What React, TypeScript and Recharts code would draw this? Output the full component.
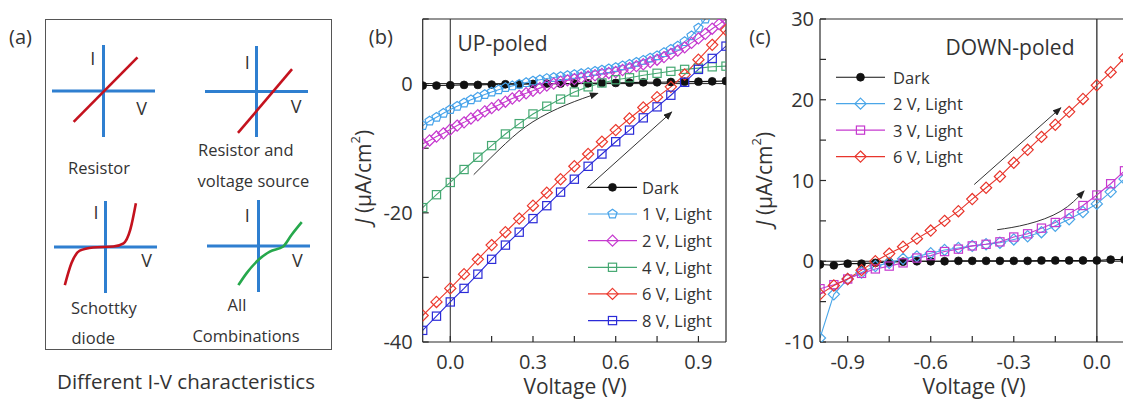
import React from "react";
import { LineChart, Line, XAxis, YAxis, ReferenceLine, Legend } from "recharts";

const FONT = "'Open Sans', sans-serif";
const INK = "#333";
const FRAME = "#2a2a2a";
const SKETCH_AXIS = "#2f7fd0";

// ---- panel (b): UP-poled, bias sweep -0.1 .. 1.0 V
const VB = [-0.1, -0.05, 0, 0.05, 0.1, 0.15, 0.2, 0.25, 0.3, 0.35, 0.4, 0.45, 0.5, 0.55, 0.6, 0.65, 0.7, 0.75, 0.8, 0.85, 0.9, 0.95, 1.0];
const VB_FINE = [-0.1, -0.075, -0.05, -0.025, 0, 0.025, 0.05, 0.075, 0.1, 0.125, 0.15, 0.175, 0.2, 0.225, 0.25, 0.275, 0.3, 0.325, 0.35, 0.375, 0.4, 0.425, 0.45, 0.475, 0.5, 0.525, 0.55, 0.575, 0.6, 0.625, 0.65, 0.675, 0.7, 0.725, 0.75, 0.775, 0.8, 0.825, 0.85, 0.875, 0.9, 0.925, 0.95, 0.975, 1.0];
const B_DARK = [-0.3, -0.3, -0.25, -0.2, -0.2, -0.15, -0.1, -0.1, -0.05, 0, 0, 0, 0.05, 0.1, 0.1, 0.15, 0.2, 0.2, 0.25, 0.3, 0.3, 0.35, 0.4];
const B_1V = [-6.5, -5.8, -5.2, -4.6, -4.0, -3.5, -3.0, -2.5, -2.1, -1.7, -1.3, -0.95, -0.6, -0.35, -0.1, 0.15, 0.4, 0.6, 0.8, 0.95, 1.1, 1.25, 1.4, 1.55, 1.7, 1.9, 2.1, 2.3, 2.5, 2.75, 3.0, 3.3, 3.6, 3.95, 4.3, 4.8, 5.3, 5.8, 6.5, 7.4, 8.6, 10.0, 11.4, 12.8, 14.2];
const B_2V = [-9.3, -8.8, -8.2, -7.7, -7.1, -6.5, -6.0, -5.4, -4.9, -4.3, -3.8, -3.3, -2.8, -2.3, -1.9, -1.5, -1.1, -0.7, -0.3, 0.0, 0.3, 0.5, 0.7, 0.9, 1.1, 1.3, 1.5, 1.65, 1.8, 2.1, 2.4, 2.7, 3.0, 3.35, 3.7, 4.1, 4.6, 5.1, 5.6, 6.3, 7.0, 7.7, 8.5, 9.2, 10.0];
const B_4V = [-19.2, -17.2, -15.3, -13.3, -11.4, -9.6, -7.8, -6.2, -4.7, -3.5, -2.4, -1.3, -0.5, 0.1, 0.6, 0.9, 1.3, 1.6, 1.9, 2.2, 2.4, 2.6, 2.7];
const B_6V = [-35.9, -33.8, -31.7, -29.5, -27.2, -25.0, -23.0, -20.9, -18.9, -16.9, -14.8, -12.8, -10.9, -9.0, -7.2, -5.4, -3.7, -2.1, -0.5, 1.4, 3.7, 6.0, 8.3];
const B_8V = [-38.2, -36.0, -33.8, -31.7, -29.5, -27.2, -25.0, -23.0, -20.9, -18.9, -16.8, -14.8, -12.8, -10.9, -9.0, -7.2, -5.3, -3.6, -1.8, 0.2, 2.2, 3.9, 5.8];
const B_XTICKS = [0, 0.15, 0.3, 0.45, 0.6, 0.75, 0.9];
const B_YTICKS = [-40, -30, -20, -10, 0, 10];

// ---- panel (c): DOWN-poled, bias sweep -1.0 .. 0.1 V
const VC = [-1.0, -0.95, -0.9, -0.85, -0.8, -0.75, -0.7, -0.65, -0.6, -0.55, -0.5, -0.45, -0.4, -0.35, -0.3, -0.25, -0.2, -0.15, -0.1, -0.05, 0, 0.05, 0.1];
const C_DARK = [-0.4, -0.5, -0.3, -0.3, -0.2, -0.1, -0.05, 0, 0, 0, 0.05, 0.05, 0.05, 0.05, 0.05, 0.05, 0.1, 0.1, 0.1, 0.1, 0.1, 0.2, 0.2];
const C_2V = [-9.5, -4.1, -2.2, -1.4, -0.6, -0.2, 0.3, 0.6, 1.0, 1.4, 1.65, 1.9, 2.1, 2.3, 2.7, 3.1, 3.6, 4.4, 5.2, 6.1, 7.1, 8.6, 10.2];
const C_3V = [-3.4, -2.9, -2.2, -1.5, -0.95, -0.6, -0.2, 0.4, 0.7, 1.2, 1.5, 1.9, 2.1, 2.4, 3.0, 3.4, 4.1, 4.8, 5.9, 6.9, 8.2, 9.6, 11.2];
const C_6V = [-4.1, -3.0, -2.2, -1.1, 0, 0.95, 1.8, 2.8, 3.8, 5.0, 6.2, 7.7, 9.1, 10.5, 12.2, 13.8, 15.4, 16.9, 18.5, 20.1, 21.8, 23.4, 25.2];
const C_XTICKS = [-0.9, -0.75, -0.6, -0.45, -0.3, -0.15, 0];
const C_YTICKS = [-10, -5, 0, 5, 10, 15, 20, 25, 30];

// sweep-direction arrows, in data units
const B_ARC_V = [0.085, 0.2, 0.3, 0.42, 0.535];
const B_ARC_J = [-14.1, -9.3, -5.9, -3.3, -1.5];
const B_RAY_V = [0.495, 0.803];
const B_RAY_J = [-16.2, -4.4];
const C_RAY_V = [-0.443, -0.13];
const C_RAY_J = [9.5, 19.0];
const C_ARC_V = [-0.36, -0.25, -0.13, -0.046];
const C_ARC_J = [3.9, 4.6, 6.2, 8.7];

// ---- panel (a): sketch curves, normalised units
const RES_V = [-0.58, 0.66];
const RES_I = [-0.67, 0.73];
const SRC_V = [-0.36, 0.69];
const SRC_I = [-0.91, 0.49];
const DIODE_V = [-0.79, -0.66, -0.5, -0.24, 0.15, 0.35, 0.48, 0.59];
const DIODE_I = [-0.83, -0.35, -0.08, -0.01, 0.01, 0.08, 0.37, 0.95];
const ALL_V = [-0.39, -0.23, 0, 0.22, 0.48, 0.64, 0.84];
const ALL_I = [-0.85, -0.59, -0.3, -0.12, -0.01, 0.24, 0.52];

const zip = (xs: number[], ys: number[]) => xs.map((x, i) => ({ x, y: ys[i] }));

type Shape = "circle" | "pentagon" | "diamond" | "square";
interface Series {
  name: string;
  xs: number[];
  ys: number[];
  color: string;
  shape: Shape;
}

const B_SERIES: Series[] = [
  { name: "Dark", xs: VB, ys: B_DARK, color: "#111", shape: "circle" },
  { name: "1 V, Light", xs: VB_FINE, ys: B_1V, color: "#47a3ea", shape: "pentagon" },
  { name: "2 V, Light", xs: VB_FINE, ys: B_2V, color: "#c63acf", shape: "diamond" },
  { name: "4 V, Light", xs: VB, ys: B_4V, color: "#45a872", shape: "square" },
  { name: "6 V, Light", xs: VB, ys: B_6V, color: "#ec3a2e", shape: "diamond" },
  { name: "8 V, Light", xs: VB, ys: B_8V, color: "#2b2bd8", shape: "square" },
];

const C_SERIES: Series[] = [
  { name: "Dark", xs: VC, ys: C_DARK, color: "#111", shape: "circle" },
  { name: "2 V, Light", xs: VC, ys: C_2V, color: "#4aa6e8", shape: "diamond" },
  { name: "3 V, Light", xs: VC, ys: C_3V, color: "#c63acf", shape: "square" },
  { name: "6 V, Light", xs: VC, ys: C_6V, color: "#e8352c", shape: "diamond" },
];

function Marker({ shape, cx, cy, color }: { shape: Shape; cx: number; cy: number; color: string }) {
  if (shape === "circle") return <circle cx={cx} cy={cy} r={3.9} fill={color} stroke={color} strokeWidth={0.8} />;
  if (shape === "diamond") {
    const r = 5.6;
    return <polygon points={`${cx},${cy - r} ${cx + r},${cy} ${cx},${cy + r} ${cx - r},${cy}`} fill="none" stroke={color} strokeWidth={1.2} />;
  }
  if (shape === "square") {
    const h = 4.1;
    return <rect x={cx - h} y={cy - h} width={2 * h} height={2 * h} fill="none" stroke={color} strokeWidth={1.2} />;
  }
  const r = 4.8;
  const pts = [0, 1, 2, 3, 4]
    .map((k) => {
      const a = -Math.PI / 2 + (k * 2 * Math.PI) / 5;
      return `${cx + r * Math.cos(a)},${cy + r * Math.sin(a)}`;
    })
    .join(" ");
  return <polygon points={pts} fill="none" stroke={color} strokeWidth={1.2} />;
}

const dotFor = (s: Series) => (p: any) => {
  if (p.cx == null || p.cy == null) return <g key={`${s.name}-${p.index}`} />;
  return (
    <g key={`${s.name}-${p.index}`}>
      <Marker shape={s.shape} cx={p.cx} cy={p.cy} color={s.color} />
    </g>
  );
};

// legend rows keep the plotting order of the series table
const legendFor = (series: Series[], rowH: number, lineW: number, textX: number) => (props: any) => {
  const order = (name: string) => series.findIndex((s) => s.name === name);
  const items = (props.payload || [])
    .filter((it: any) => it.type !== "none" && order(it.value) >= 0)
    .sort((a: any, b: any) => order(a.value) - order(b.value));
  return (
    <svg width={textX + 95} height={items.length * rowH} style={{ display: "block", overflow: "visible" }}>
      {items.map((it: any, i: number) => {
        const s = series[order(it.value)];
        const cy = rowH / 2 + i * rowH;
        return (
          <g key={s.name}>
            <line x1={0} x2={lineW} y1={cy} y2={cy} stroke={s.color} strokeWidth={1.2} />
            <Marker shape={s.shape} cx={lineW / 2} cy={cy} color={s.color} />
            <text x={textX} y={cy} dominantBaseline="central" fontSize={16.5} fontFamily={FONT} fill={INK}>
              {s.name}
            </text>
          </g>
        );
      })}
    </svg>
  );
};

const yTitle = (cx: number, cy: number) => () => (
  <text x={cx} y={cy} transform={`rotate(-90 ${cx} ${cy})`} textAnchor="middle" dominantBaseline="central" fontFamily={FONT} fontSize={21} fill={INK}>
    <tspan fontStyle="italic">J</tspan>
    <tspan> (μA/cm</tspan>
    <tspan fontSize={13} dy={-8}>2</tspan>
    <tspan dy={8}>)</tspan>
  </text>
);

const xTitle = (cx: number, y: number) => () => (
  <text x={cx} y={y} textAnchor="middle" fontFamily={FONT} fontSize={21} fill={INK}>
    Voltage (V)
  </text>
);

const fmtV = (v: number) => (Math.round(v * 100) % 30 === 0 ? v.toFixed(1) : "");
const tickStyle = { fill: INK, fontSize: 20, fontFamily: FONT };

function Txt({ x, y, size = 20, anchor = "middle", children }: { x: number; y: number; size?: number; anchor?: string; children: React.ReactNode }) {
  const tx = anchor === "middle" ? "-50%" : anchor === "end" ? "-100%" : "0";
  return (
    <div style={{ position: "absolute", left: x, top: y, transform: `translate(${tx}, -50%)`, fontSize: size, lineHeight: 1, whiteSpace: "nowrap", fontFamily: FONT, color: INK }}>
      {children}
    </div>
  );
}

function Sketch({ left, top, w, h, xs, ys, color }: { left: number; top: number; w: number; h: number; xs: number[]; ys: number[]; color: string }) {
  return (
    <div style={{ position: "absolute", left, top }}>
      <LineChart width={w} height={h} margin={{ top: 0, right: 0, bottom: 0, left: 0 }}>
        <XAxis type="number" dataKey="x" domain={[-1, 1]} hide />
        <YAxis type="number" domain={[-1, 1]} hide />
        <ReferenceLine x={0} stroke={SKETCH_AXIS} strokeWidth={3} />
        <ReferenceLine y={0} stroke={SKETCH_AXIS} strokeWidth={3} />
        <Line data={zip(xs, ys)} dataKey="y" type="monotone" stroke={color} strokeWidth={2.6} dot={false} isAnimationActive={false} />
      </LineChart>
    </div>
  );
}

const arrowDef = (id: string) => (
  <defs>
    <marker id={id} viewBox="0 0 10 8" refX={9} refY={4} markerWidth={9} markerHeight={7} markerUnits="userSpaceOnUse" orient="auto">
      <path d="M0,0 L10,4 L0,8 z" fill="#222" />
    </marker>
  </defs>
);

function PanelB() {
  return (
    <div style={{ position: "absolute", left: 340, top: 0 }}>
      <LineChart width={400} height={403} margin={{ top: 19, right: 14, bottom: 21, left: 22.7 }}>
        {arrowDef("arrowB")}
        <XAxis type="number" dataKey="x" domain={[-0.1, 1.0]} ticks={B_XTICKS} interval={0} allowDataOverflow height={40}
          tickSize={-6} tickMargin={18.5} stroke={FRAME} strokeWidth={1.2} tickFormatter={fmtV} tick={tickStyle} label={xTitle(235, 394)} />
        <XAxis xAxisId="top" orientation="top" mirror type="number" dataKey="x" domain={[-0.1, 1.0]} ticks={B_XTICKS} interval={0}
          allowDataOverflow height={10} tickSize={6} tick={false} stroke={FRAME} strokeWidth={1.2} />
        <YAxis type="number" domain={[-40, 10]} ticks={B_YTICKS} interval={0} allowDataOverflow width={60} tickSize={-6} tickMargin={16}
          stroke={FRAME} strokeWidth={1.2} tick={tickStyle} tickFormatter={(v: number) => (v % 20 === 0 ? String(v) : "")} label={yTitle(23, 177)} />
        <YAxis yAxisId="right" orientation="right" mirror type="number" domain={[-40, 10]} ticks={B_YTICKS} interval={0}
          allowDataOverflow width={10} tickSize={6} tick={false} stroke={FRAME} strokeWidth={1.2} />
        <ReferenceLine x={0} stroke="#222" strokeWidth={1} />
        <ReferenceLine y={0} stroke="#222" strokeWidth={1} />
        {B_SERIES.map((s) => (
          <Line key={s.name} name={s.name} data={zip(s.xs, s.ys)} dataKey="y" stroke={s.color} strokeWidth={1.1} dot={dotFor(s)} isAnimationActive={false} />
        ))}
        <Line data={zip(B_ARC_V, B_ARC_J)} dataKey="y" type="natural" stroke="#333" strokeWidth={1} dot={false} legendType="none" markerEnd="url(#arrowB)" isAnimationActive={false} />
        <Line data={zip(B_RAY_V, B_RAY_J)} dataKey="y" stroke="#333" strokeWidth={1} dot={false} legendType="none" markerEnd="url(#arrowB)" isAnimationActive={false} />
        <Legend layout="vertical" align="center" verticalAlign="middle" wrapperStyle={{ left: 248, top: 174.3 }} content={legendFor(B_SERIES, 26.65, 49, 54)} />
      </LineChart>
    </div>
  );
}

function PanelC() {
  return (
    <div style={{ position: "absolute", left: 740, top: 0 }}>
      <LineChart width={390} height={403} margin={{ top: 19, right: 5.5, bottom: 21, left: 20 }}>
        {arrowDef("arrowC")}
        <XAxis type="number" dataKey="x" domain={[-1.0, 0.1]} ticks={C_XTICKS} interval={0} allowDataOverflow height={40}
          tickSize={-6} tickMargin={18.5} stroke={FRAME} strokeWidth={1.2} tickFormatter={fmtV} tick={tickStyle} label={xTitle(234, 394)} />
        <XAxis xAxisId="top" orientation="top" mirror type="number" dataKey="x" domain={[-1.0, 0.1]} ticks={C_XTICKS} interval={0}
          allowDataOverflow height={10} tickSize={6} tick={false} stroke={FRAME} strokeWidth={1.2} />
        <YAxis type="number" domain={[-10, 30]} ticks={C_YTICKS} interval={0} allowDataOverflow width={60} tickSize={-6} tickMargin={12}
          stroke={FRAME} strokeWidth={1.2} tick={tickStyle} tickFormatter={(v: number) => (v % 10 === 0 ? String(v) : "")} label={yTitle(24, 179)} />
        <YAxis yAxisId="right" orientation="right" mirror type="number" domain={[-10, 30]} ticks={C_YTICKS} interval={0}
          allowDataOverflow width={10} tickSize={6} tick={false} stroke={FRAME} strokeWidth={1.2} />
        <ReferenceLine x={0} stroke="#555" strokeWidth={1.6} />
        <ReferenceLine y={0} stroke="#222" strokeWidth={1} />
        {C_SERIES.map((s) => (
          <Line key={s.name} name={s.name} data={zip(s.xs, s.ys)} dataKey="y" stroke={s.color} strokeWidth={1.1} dot={dotFor(s)} isAnimationActive={false} />
        ))}
        <Line data={zip(C_ARC_V, C_ARC_J)} dataKey="y" type="natural" stroke="#333" strokeWidth={1} dot={false} legendType="none" markerEnd="url(#arrowC)" isAnimationActive={false} />
        <Line data={zip(C_RAY_V, C_RAY_J)} dataKey="y" stroke="#333" strokeWidth={1} dot={false} legendType="none" markerEnd="url(#arrowC)" isAnimationActive={false} />
        <Legend layout="vertical" align="center" verticalAlign="middle" wrapperStyle={{ left: 96, top: 64 }} content={legendFor(C_SERIES, 26.45, 49, 57)} />
      </LineChart>
    </div>
  );
}

export default function App() {
  return (
    <div style={{ position: "absolute", left: 0, top: 0, width: 1123, height: 403, overflow: "hidden", background: "#fff", fontFamily: FONT }}>
      {/* (a) schematic I-V shapes */}
      <div style={{ position: "absolute", left: 45, top: 19, width: 285, height: 329, border: "1.5px solid #555" }} />
      <Sketch left={52} top={45} w={103} h={92} xs={RES_V} ys={RES_I} color="#c4121e" />
      <Sketch left={205} top={46} w={103} h={91} xs={SRC_V} ys={SRC_I} color="#c4121e" />
      <Sketch left={54} top={201} w={103} h={92} xs={DIODE_V} ys={DIODE_I} color="#c4121e" />
      <Sketch left={207} top={200} w={103} h={92} xs={ALL_V} ys={ALL_I} color="#26a84c" />
      <Txt x={20.5} y={37}>(a)</Txt>
      <Txt x={92.7} y={58} size={18}>I</Txt>
      <Txt x={141.7} y={108} size={18}>V</Txt>
      <Txt x={99} y={168} size={16.5}>Resistor</Txt>
      <Txt x={247.3} y={61.7} size={18}>I</Txt>
      <Txt x={296} y={106} size={18}>V</Txt>
      <Txt x={198} y={150} size={16.5} anchor="start">Resistor and</Txt>
      <Txt x={197.5} y={181} size={16.5} anchor="start">voltage source</Txt>
      <Txt x={96} y={211.7} size={18}>I</Txt>
      <Txt x={146.7} y={260} size={18}>V</Txt>
      <Txt x={71} y={308} size={16.5} anchor="start">Schottky</Txt>
      <Txt x={71.5} y={338} size={16.5} anchor="start">diode</Txt>
      <Txt x={247.3} y={215} size={18}>I</Txt>
      <Txt x={297.3} y={260} size={18}>V</Txt>
      <Txt x={237} y={305} size={16.5}>All</Txt>
      <Txt x={246} y={336} size={16.5}>Combinations</Txt>
      <Txt x={186} y={381} size={20.5}>Different I-V characteristics</Txt>

      {/* (b) UP-poled */}
      <PanelB />
      <Txt x={380.8} y={37}>(b)</Txt>
      <Txt x={502.5} y={43} size={21}>UP-poled</Txt>

      {/* (c) DOWN-poled */}
      <PanelC />
      <Txt x={760} y={37}>(c)</Txt>
      <Txt x={1010} y={47} size={21}>DOWN-poled</Txt>
    </div>
  );
}
